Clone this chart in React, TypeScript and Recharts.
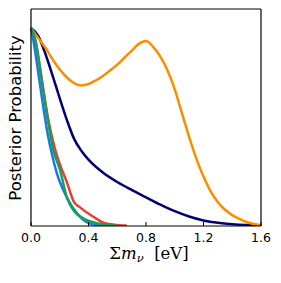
import { LineChart, Line, XAxis, YAxis } from "recharts";

// posterior curves (x in eV, y normalised to peak 1)
const orangeX = [0, 0.05, 0.1, 0.15, 0.2, 0.25, 0.3, 0.35, 0.4, 0.45, 0.5, 0.55, 0.6, 0.65, 0.7, 0.75, 0.8, 0.85, 0.9, 0.95, 1.0, 1.05, 1.1, 1.15, 1.2, 1.25, 1.3, 1.35, 1.4, 1.45, 1.5, 1.55, 1.6];
const orangeY = [1, 0.95, 0.9, 0.842, 0.79, 0.75, 0.722, 0.71, 0.717, 0.735, 0.758, 0.785, 0.815, 0.85, 0.885, 0.92, 0.935, 0.905, 0.855, 0.785, 0.69, 0.57, 0.45, 0.34, 0.25, 0.175, 0.12, 0.082, 0.055, 0.036, 0.02, 0.01, 0.003];

const navyX = [0, 0.05, 0.1, 0.15, 0.2, 0.25, 0.3, 0.35, 0.4, 0.5, 0.6, 0.7, 0.8, 0.9, 1.0, 1.1, 1.2, 1.3, 1.4, 1.5, 1.6];
const navyY = [1, 0.96, 0.87, 0.76, 0.645, 0.535, 0.44, 0.38, 0.335, 0.27, 0.222, 0.182, 0.145, 0.108, 0.075, 0.048, 0.028, 0.016, 0.009, 0.005, 0.003];

const redX = [0, 0.03, 0.076, 0.112, 0.169, 0.202, 0.25, 0.3, 0.341, 0.433, 0.503, 0.58, 0.666];
const redY = [1, 0.939, 0.737, 0.571, 0.384, 0.31, 0.22, 0.12, 0.094, 0.047, 0.017, 0.006, 0.002];

const blueX = [0, 0.016, 0.058, 0.092, 0.111, 0.139, 0.179, 0.248, 0.318, 0.387, 0.48, 0.6];
const blueY = [1, 0.939, 0.737, 0.571, 0.485, 0.384, 0.268, 0.146, 0.066, 0.02, 0.003, 0];

const greenX = [0, 0.03, 0.074, 0.109, 0.155, 0.202, 0.248, 0.294, 0.364, 0.457, 0.6];
const greenY = [1, 0.939, 0.737, 0.571, 0.384, 0.283, 0.148, 0.081, 0.039, 0.014, 0];

const xTicks = [0, 0.4, 0.8, 1.2, 1.6];

const zip = (xs: number[], ys: number[]) => xs.map((x, i) => ({ x, y: ys[i] }));

const series = [
  { name: "navy", color: "#000070", data: zip(navyX, navyY) },
  { name: "orange", color: "#ff8c00", data: zip(orangeX, orangeY) },
  { name: "red", color: "#e8402a", data: zip(redX, redY) },
  { name: "blue", color: "#1e78e6", data: zip(blueX, blueY) },
  { name: "green", color: "#17a05d", data: zip(greenX, greenY) },
];

const tickFont = { fontSize: 12.5, fontFamily: "DejaVu Sans", fill: "#000" };

const BottomTick = ({ x, y, payload }: any) => (
  <g>
    <line x1={x} x2={x} y1={y} y2={y - 4} stroke="#000" strokeWidth={1} />
    <text x={x} y={y + 16} textAnchor="middle" {...tickFont}>
      {Number(payload.value).toFixed(1)}
    </text>
  </g>
);

const TopTick = ({ x, y }: any) => (
  <line x1={x} x2={x} y1={y} y2={y + 4} stroke="#000" strokeWidth={1} />
);

const XLabel = () => (
  <text x={149} y={259} textAnchor="middle" fontFamily="DejaVu Serif" fontSize={16.5} fill="#000">
    Σ<tspan fontStyle="italic">m</tspan>
    <tspan fontStyle="italic" fontSize={11.5} dy={3}>ν</tspan>
    <tspan dy={-3}>{"\u00a0\u00a0[eV]"}</tspan>
  </text>
);

const YLabel = () => (
  <text
    x={15}
    y={118}
    transform="rotate(-90, 15, 118)"
    textAnchor="middle"
    dominantBaseline="central"
    fontFamily="DejaVu Sans"
    fontSize={16.5}
    fill="#000"
  >
    Posterior Probability
  </text>
);

export default function App() {
  return (
    <div style={{ position: "absolute", left: 0, top: 0, background: "#fff" }}>
      <LineChart
        width={281}
        height={283}
        margin={{ top: 8, right: 19, bottom: 27, left: 0 }}
      >
        <XAxis
          dataKey="x"
          type="number"
          domain={[0, 1.6]}
          ticks={xTicks}
          height={30}
          tickSize={0}
          tickMargin={0}
          tickLine={false}
          axisLine={{ stroke: "#000", strokeWidth: 1.2 }}
          tick={<BottomTick />}
          label={{ content: () => <XLabel /> }}
        />
        <XAxis
          xAxisId="top"
          orientation="top"
          dataKey="x"
          type="number"
          domain={[0, 1.6]}
          ticks={xTicks}
          height={1}
          tickSize={0}
          tickMargin={0}
          tickLine={false}
          axisLine={{ stroke: "#000", strokeWidth: 1.2 }}
          tick={<TopTick />}
        />
        <YAxis
          type="number"
          domain={[0, 1.096]}
          allowDataOverflow
          width={31}
          tick={false}
          tickLine={false}
          axisLine={{ stroke: "#000", strokeWidth: 1.2 }}
          label={{ content: () => <YLabel /> }}
        />
        <YAxis
          yAxisId="right"
          orientation="right"
          type="number"
          domain={[0, 1.096]}
          width={1}
          tick={false}
          tickLine={false}
          axisLine={{ stroke: "#000", strokeWidth: 1.2 }}
        />
        {series.map((s) => (
          <Line
            key={s.name}
            data={s.data}
            dataKey="y"
            type="monotone"
            stroke={s.color}
            strokeWidth={2.5}
            dot={false}
            activeDot={false}
            isAnimationActive={false}
          />
        ))}
      </LineChart>
    </div>
  );
}
